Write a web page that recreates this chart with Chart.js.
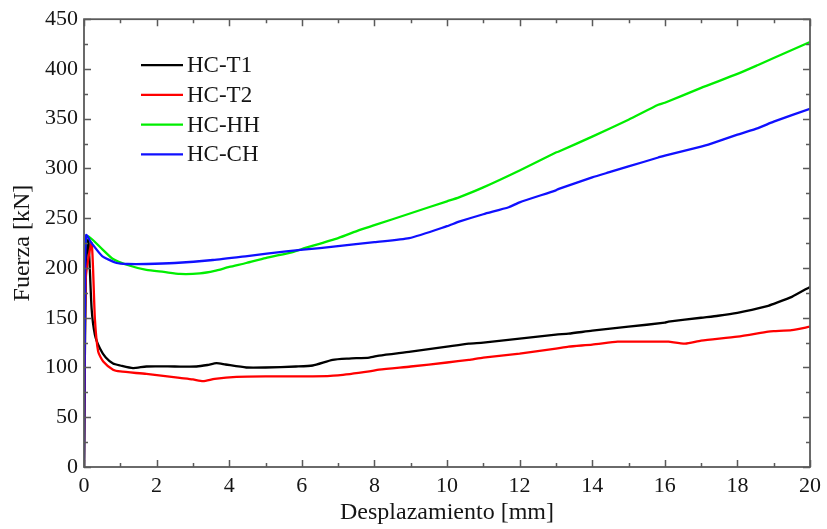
<!DOCTYPE html>
<html>
<head>
<meta charset="utf-8">
<script src="https://cdn.jsdelivr.net/npm/chart.js@4.4.0/dist/chart.umd.min.js"></script>
<style>
  html, body { margin: 0; padding: 0; background: #ffffff; }
  #wrap { width: 827px; height: 529px; position: relative; }
</style>
</head>
<body>
<div id="wrap"><canvas id="c" width="827" height="529"></canvas></div>
<script>
// ---- Data ----
const seriesLabels = ["HC-T1", "HC-T2", "HC-HH", "HC-CH"];
const seriesColors = ["#000000", "#ff0000", "#00ee00", "#1010ff"];

const t1X = [0, 0.05, 0.12, 0.21, 0.3, 0.44, 0.6, 0.8, 1.0, 1.35, 1.72, 2.5, 3.1, 3.4, 3.65, 3.9, 4.47, 5.0, 5.84, 6.3, 6.85, 7.3, 7.86, 8.13, 9, 10, 10.6, 11, 12, 13, 13.35, 14, 15, 16, 16.1, 17, 17.47, 18, 18.85, 19, 19.5, 20];
const t1Y = [0, 200, 228, 159, 133, 119, 110, 104, 102, 99.4, 101, 101, 101, 102.5, 104.4, 103, 100, 100, 101, 102, 107.7, 109, 110, 112, 116, 121, 124, 125, 129, 133, 134, 137, 141, 145, 146, 150, 152, 155, 162, 164, 171, 181];

const t2X = [0, 0.05, 0.21, 0.3, 0.39, 0.53, 0.8, 1.0, 1.72, 2.64, 3.0, 3.28, 3.6, 4.2, 5, 6.3, 7, 7.86, 8.13, 9, 10, 10.6, 11, 12, 13, 13.35, 14, 14.7, 15, 16, 16.1, 16.56, 17, 18, 18.85, 19, 19.5, 20];
const t2Y = [0, 190, 225, 149, 116, 106, 97.8, 96, 93.5, 89.5, 88, 86.2, 88.5, 90.5, 91, 91, 92, 96, 97.8, 101, 105, 107.7, 110, 114, 119, 121, 123, 126, 126, 126, 126, 124, 127, 131, 136, 136.5, 137.5, 141];

const hhX = [0, 0.04, 0.1, 0.5, 0.8, 1.2, 1.72, 2.2, 2.64, 3.19, 3.6, 4.0, 4.47, 5.0, 5.75, 6.0, 7.0, 7.58, 8, 9, 10, 10.33, 11, 12, 13, 13.08, 14, 15, 15.82, 16, 17, 18, 18.57, 19, 20];
const hhY = [0, 215, 232, 219, 209, 203, 198, 196, 194, 194.5, 197, 201, 205, 210, 216, 219, 230, 238, 243, 255, 267, 271, 281, 298, 316, 317, 332, 349, 364, 366, 381, 395, 404, 411, 427];

const chX = [0, 0.03, 0.06, 0.21, 0.5, 0.9, 1.2, 1.72, 2.5, 3.55, 4.5, 5.57, 6.5, 7.49, 8, 8.96, 10, 10.33, 11, 11.7, 12, 13, 13.08, 14, 14.45, 15, 15.82, 16, 17, 17.2, 18, 18.57, 19, 20];
const chY = [0, 180, 233, 225, 212, 205, 204, 204, 205, 208, 212, 216.7, 220, 224, 226, 230, 242, 246.5, 254, 261, 266, 278, 279.5, 291, 296, 302, 311, 313, 322, 324, 334, 340.6, 347, 360];

const xTickMin = 0, xTickMax = 20, xTickStep = 2, xMinorStep = 1;
const yTickMin = 0, yTickMax = 450, yTickStep = 50, yMinorStep = 25;

const xTitle = "Desplazamiento [mm]";
const yTitle = "Fuerza [kN]";

// ---- Build datasets ----
function toPoints(xs, ys) { return xs.map((x, i) => ({ x: x, y: ys[i] })); }
const allX = [t1X, t2X, hhX, chX];
const allY = [t1Y, t2Y, hhY, chY];
const datasets = seriesLabels.map((lab, i) => ({
  label: lab,
  data: toPoints(allX[i], allY[i]),
  borderColor: seriesColors[i],
  backgroundColor: seriesColors[i],
  borderWidth: 2.3,
  pointRadius: 0,
  tension: 0.2,
  fill: false
}));
datasets.forEach((d, i) => { d.order = [2, 1, 3, 0][i]; });

const FONT = "'Liberation Serif', 'Times New Roman', serif";
const TEXT = "#151515";
const AXIS = "#5a5a5a";

// ---- Plugin: box frame + inward major/minor ticks on all sides ----
const frameTicks = {
  id: 'frameTicks',
  afterDatasetsDraw(chart) {
    const { ctx, chartArea: a, scales: { x, y } } = chart;
    ctx.save();
    ctx.strokeStyle = AXIS;
    ctx.lineWidth = 1.5;
    ctx.beginPath();
    for (let v = xTickMin; v <= xTickMax + 1e-9; v += xMinorStep) {
      const px = Math.round(x.getPixelForValue(v)) + 0.5;
      const len = (Math.abs(v / xTickStep - Math.round(v / xTickStep)) < 1e-9) ? 7 : 4;
      ctx.moveTo(px, a.bottom); ctx.lineTo(px, a.bottom - len);
      ctx.moveTo(px, a.top); ctx.lineTo(px, a.top + len);
    }
    for (let v = yTickMin; v <= yTickMax + 1e-9; v += yMinorStep) {
      const py = Math.round(y.getPixelForValue(v)) + 0.5;
      const len = (Math.abs(v / yTickStep - Math.round(v / yTickStep)) < 1e-9) ? 7 : 4;
      ctx.moveTo(a.left, py); ctx.lineTo(a.left + len, py);
      ctx.moveTo(a.right, py); ctx.lineTo(a.right - len, py);
    }
    ctx.stroke();
    ctx.lineWidth = 1.8;
    ctx.strokeRect(a.left, a.top, a.right - a.left, a.bottom - a.top);
    ctx.restore();
  }
};

// ---- Plugin: legend inside plot at top-left ----
const innerLegend = {
  id: 'innerLegend',
  afterDatasetsDraw(chart) {
    const { ctx, chartArea: a } = chart;
    ctx.save();
    ctx.font = "23px " + FONT;
    ctx.textBaseline = 'middle';
    ctx.textAlign = 'left';
    const x0 = a.left + 57, x1 = a.left + 99, tx = a.left + 103;
    const y0 = a.top + 46, dy = 29.7;
    chart.data.datasets.forEach((d, i) => {
      const yy = y0 + i * dy;
      ctx.strokeStyle = d.borderColor;
      ctx.lineWidth = 2.3;
      ctx.beginPath(); ctx.moveTo(x0, yy); ctx.lineTo(x1, yy); ctx.stroke();
      ctx.fillStyle = TEXT;
      ctx.fillText(d.label, tx, yy + 1);
    });
    ctx.restore();
  }
};

new Chart(document.getElementById('c'), {
  type: 'line',
  data: { datasets: datasets },
  options: {
    responsive: false,
    animation: false,
    devicePixelRatio: 1,
    layout: { padding: { left: 0, top: 13, right: 15, bottom: 0 } },
    plugins: { legend: { display: false }, tooltip: { enabled: false } },
    scales: {
      x: {
        type: 'linear',
        min: xTickMin, max: xTickMax,
        afterFit(s) { s.height = 62; },
        ticks: { stepSize: xTickStep, color: TEXT, padding: 6, font: { family: FONT, size: 22 }, maxRotation: 0 },
        grid: { display: false, drawTicks: false },
        border: { display: false },
        title: { display: true, text: xTitle, color: TEXT, font: { family: FONT, size: 24 }, padding: { top: 0, bottom: 2 } }
      },
      y: {
        type: 'linear',
        min: yTickMin, max: yTickMax,
        afterFit(s) { s.width = 84; },
        ticks: { stepSize: yTickStep, color: TEXT, padding: 6, font: { family: FONT, size: 22 } },
        grid: { display: false, drawTicks: false },
        border: { display: false },
        title: { display: true, text: yTitle, color: TEXT, font: { family: FONT, size: 24 }, padding: { top: 8, bottom: 0 } }
      }
    }
  },
  plugins: [frameTicks, innerLegend]
});
</script>
</body>
</html>
